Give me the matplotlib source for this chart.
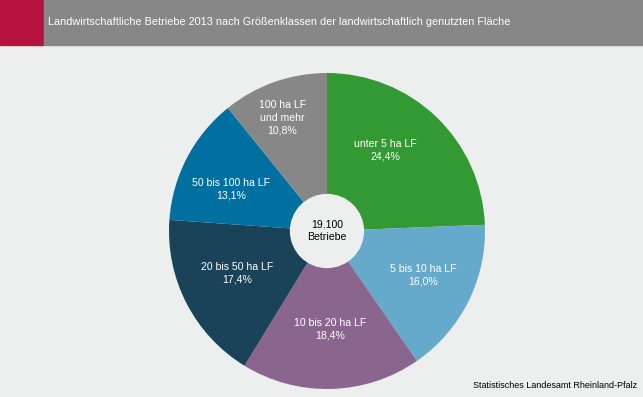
import matplotlib
matplotlib.use('Agg')
import matplotlib.pyplot as plt
from matplotlib.patches import Rectangle
import numpy as np

categories = ['unter 5 ha LF', '5 bis 10 ha LF', '10 bis 20 ha LF',
              '20 bis 50 ha LF', '50 bis 100 ha LF', '100 ha LF\nund mehr']
shares = [24.4, 16.0, 18.4, 17.4, 13.1, 10.8]
colors = ['#339933', '#66aacb', '#8a668f', '#1a435a', '#0070a0', '#878787']
label_radius = [0.63, 0.67, 0.62, 0.63, 0.66, 0.77]
label_shift = [8, 2, 0, -2, 4, 2]   # degrees, nudges label off the wedge middle
total_text = '19.100\nBetriebe'
title = 'Landwirtschaftliche Betriebe 2013 nach Größenklassen der landwirtschaftlich genutzten Fläche'
source = 'Statistisches Landesamt Rheinland-Pfalz'

W, H = 643, 397
bg = '#edefee'
plt.rcParams['font.family'] = ['Liberation Sans', 'DejaVu Sans']

fig = plt.figure(figsize=(W / 100, H / 100), dpi=100, facecolor=bg)

# header bar
fig.patches.append(Rectangle((0, 1 - 45 / H), 43 / W, 45 / H, transform=fig.transFigure,
                             color='#b5123e', zorder=0))
fig.patches.append(Rectangle((44 / W, 1 - 45 / H), 1 - 44 / W, 45 / H, transform=fig.transFigure,
                             color='#878787', zorder=0))
fig.text(48 / W, 1 - 22 / H, title, color='white', fontsize=7.8, va='center', ha='left')

# pie
cx, cy, r = 327, 231, 158
ax = fig.add_axes([(cx - r) / W, (H - cy - r) / H, 2 * r / W, 2 * r / H])
ax.set_facecolor(bg)
wedges, _ = ax.pie(shares, colors=colors, startangle=90, counterclock=False, radius=1,
                   wedgeprops=dict(linewidth=0))
for w, lab, val, rl, sh in zip(wedges, categories, shares, label_radius, label_shift):
    ang = np.deg2rad((w.theta1 + w.theta2) / 2 + sh)
    txt = lab + '\n' + ('%.1f' % val).replace('.', ',') + '%'
    ax.text(rl * np.cos(ang), rl * np.sin(ang), txt, ha='center', va='center',
            color='white', fontsize=7.6, linespacing=1.3)

hole = plt.Circle((0, 0), 0.235, color=bg, linewidth=0)
ax.add_patch(hole)
ax.text(0, 0, total_text, ha='center', va='center', color='black', fontsize=7.6, linespacing=1.3)
ax.set_xlim(-1, 1)
ax.set_ylim(-1, 1)
ax.set_aspect('equal')
ax.axis('off')

fig.text(637 / W, 1 - 385 / H, source, ha='right', va='center', color='black', fontsize=6.5)

fig.savefig('out.png', dpi=100, facecolor=bg)
